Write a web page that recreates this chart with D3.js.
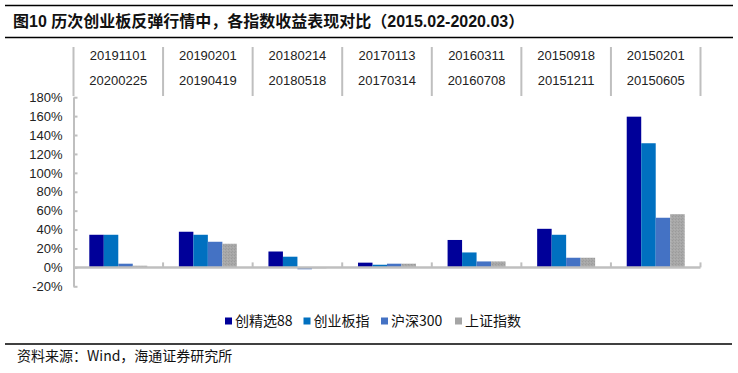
<!DOCTYPE html>
<html>
<head>
<meta charset="utf-8">
<script src="https://cdn.jsdelivr.net/npm/d3@7"></script>
<style>
  body { margin: 0; background: #fff; }
  svg text { font-family: "Liberation Sans", Arial, "Noto Sans CJK SC", sans-serif; }
</style>
</head>
<body>
<div id="chart"></div>
<script>
var width = 738, height = 373;

// periods (start / end date of each rebound)
var startDates = ["20191101", "20190201", "20180214", "20170113", "20160311", "20150918", "20150201"];
var endDates   = ["20200225", "20190419", "20180518", "20170314", "20160708", "20151211", "20150605"];
var series = ["创精选88", "创业板指", "沪深300", "上证指数"];
var colors = ["#000099", "#0070C0", "#4472C4", "#A5A5A5"];
// returns in %, one array per series
var cjx88 = [34.5, 37.7, 16.8, 5.0, 29.0, 40.8, 159.4];
var cyb   = [34.5, 34.5, 11.3, 2.8, 15.8, 34.5, 131.3];
var hs300 = [3.9, 27.1, -2.0, 3.9, 6.3, 10.2, 52.5];
var szzs  = [1.8, 25.0, -1.0, 3.9, 6.3, 10.2, 56.3];
var yTicks = [-20, 0, 20, 40, 60, 80, 100, 120, 140, 160, 180];

var values = [cjx88, cyb, hs300, szzs];
var data = [];
startDates.forEach(function(d, i) {
    series.forEach(function(s, j) {
        data.push({cat: d, series: s, value: values[j][i], idx: j});
    });
});

var svg = d3.select("#chart").append("svg")
    .attr("width", width)
    .attr("height", height);

// stipple pattern for the grey series
var pat = svg.append("defs").append("pattern")
    .attr("id", "stip")
    .attr("width", 3).attr("height", 3)
    .attr("patternUnits", "userSpaceOnUse");
pat.append("rect").attr("width", 3).attr("height", 3).attr("fill", "#A8A8A8");
pat.append("rect").attr("x", 0).attr("y", 0).attr("width", 1).attr("height", 1).attr("fill", "#9A9A9A");
pat.append("rect").attr("x", 2).attr("y", 1).attr("width", 1).attr("height", 1).attr("fill", "#B0B0B0");
pat.append("rect").attr("x", 1).attr("y", 2).attr("width", 1).attr("height", 1).attr("fill", "#9E9E9E");

// title
svg.append("line").attr("x1", 5).attr("x2", 733).attr("y1", 5.5).attr("y2", 5.5)
    .attr("stroke", "#000").attr("stroke-width", 1.5);
svg.append("line").attr("x1", 5).attr("x2", 733).attr("y1", 37.5).attr("y2", 37.5)
    .attr("stroke", "#000").attr("stroke-width", 1.5);
svg.append("text")
    .attr("x", 13).attr("y", 27)
    .style("font-size", "16px").style("font-weight", "bold").attr("fill", "#111")
    .text("图10 历次创业板反弹行情中，各指数收益表现对比（2015.02-2020.03）");

var x = d3.scaleBand()
    .range([73.5, 700.5])
    .domain(startDates)
    .padding(0);

var xs = d3.scaleBand()
    .range([0, x.bandwidth()])
    .domain(series)
    .paddingInner(0)
    .paddingOuter(1.09);

var y = d3.scaleLinear()
    .domain([-20, 180])
    .range([286.3, 97.2]);

// header with date ranges
var boundaries = startDates.map(function(d) { return x(d); }).concat([x.range()[1]]);
svg.selectAll(".sep")
    .data(boundaries)
    .enter().append("line")
    .attr("x1", function(d) { return d; })
    .attr("x2", function(d) { return d; })
    .attr("y1", 47).attr("y2", 96)
    .attr("stroke", "#BFBFBF").attr("stroke-width", 2);

svg.selectAll(".d1")
    .data(startDates)
    .enter().append("text")
    .attr("x", function(d) { return x(d) + x.bandwidth() / 2; })
    .attr("y", 60)
    .attr("text-anchor", "middle")
    .style("font-size", "13px").attr("fill", "#222")
    .text(function(d) { return d; });

svg.selectAll(".d2")
    .data(endDates)
    .enter().append("text")
    .attr("x", function(d, i) { return x(startDates[i]) + x.bandwidth() / 2; })
    .attr("y", 85)
    .attr("text-anchor", "middle")
    .style("font-size", "13px").attr("fill", "#222")
    .text(function(d) { return d; });

// y axis
var yAxis = svg.append("g")
    .attr("transform", "translate(73.5,0)")
    .call(d3.axisLeft(y)
        .tickValues(yTicks)
        .tickSizeInner(-4)
        .tickSizeOuter(0)
        .tickPadding(11)
        .tickFormat(function(d) { return d + "%"; }));
yAxis.select(".domain").attr("stroke", "#BFBFBF").attr("stroke-width", 2);
yAxis.selectAll(".tick line").attr("stroke", "#BFBFBF").attr("stroke-width", 2);
yAxis.selectAll(".tick text")
    .style("font-size", "13px").attr("fill", "#222")
    .style("font-family", "'Liberation Sans', Arial, sans-serif");

// bars
svg.selectAll(".bar")
    .data(data)
    .enter().append("rect")
    .attr("x", function(d) { return x(d.cat) + xs(d.series); })
    .attr("y", function(d) { return y(Math.max(0, d.value)); })
    .attr("width", xs.bandwidth())
    .attr("height", function(d) { return Math.abs(y(d.value) - y(0)); })
    .attr("fill", function(d) { return d.idx === 3 ? "url(#stip)" : colors[d.idx]; });

// x axis line at 0% with ticks between categories
svg.append("line")
    .attr("x1", 73.5).attr("x2", x.range()[1])
    .attr("y1", y(0)).attr("y2", y(0))
    .attr("stroke", "#BFBFBF").attr("stroke-width", 2.5);
svg.selectAll(".xt")
    .data(boundaries.slice(1))
    .enter().append("line")
    .attr("x1", function(d) { return d; })
    .attr("x2", function(d) { return d; })
    .attr("y1", y(0) - 5).attr("y2", y(0))
    .attr("stroke", "#BFBFBF").attr("stroke-width", 2);

// legend
var legendX = [225, 303.5, 381, 455];
var legend = svg.selectAll(".leg")
    .data(series)
    .enter().append("g")
    .attr("transform", function(d, i) { return "translate(" + legendX[i] + ",321)"; });
legend.append("rect")
    .attr("x", 0).attr("y", -3.5)
    .attr("width", 7).attr("height", 7)
    .attr("fill", function(d, i) { return colors[i]; });
legend.append("text")
    .attr("x", 10).attr("y", 5)
    .style("font-size", "14px").attr("fill", "#111")
    .style("font-family", "'Noto Sans CJK SC', sans-serif")
    .text(function(d) { return d; });

// source
svg.append("line").attr("x1", 5).attr("x2", 732).attr("y1", 344).attr("y2", 344)
    .attr("stroke", "#000").attr("stroke-width", 1.5);
svg.append("text")
    .attr("x", 17).attr("y", 361)
    .style("font-size", "14px").attr("fill", "#111")
    .style("font-family", "'Noto Sans CJK SC', sans-serif")
    .text("资料来源：Wind，海通证券研究所");
</script>
</body>
</html>
